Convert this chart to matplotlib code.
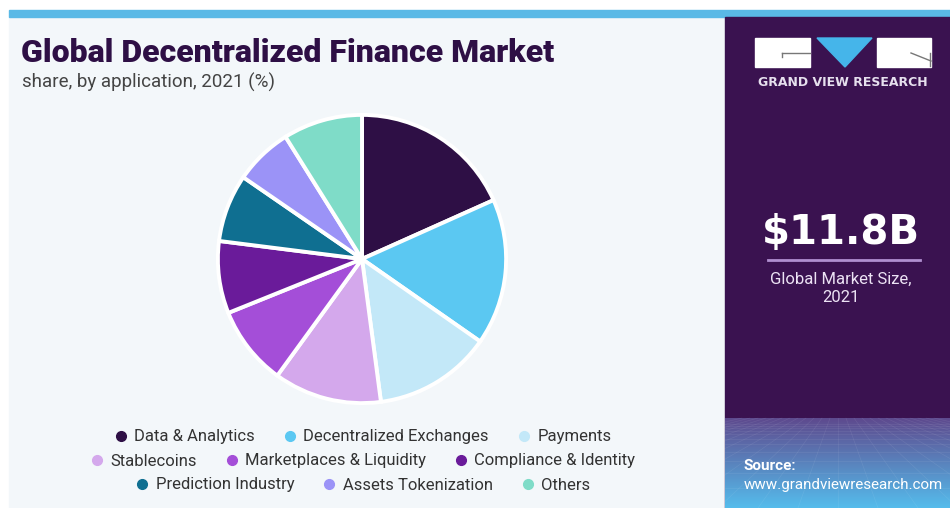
import numpy as np
import matplotlib.pyplot as plt
from matplotlib.patches import Rectangle, Polygon
from matplotlib.lines import Line2D

plt.rcParams['font.family'] = ['Roboto', 'DejaVu Sans']

# share by application, 2021 (%)
categories = ['Data & Analytics', 'Decentralized Exchanges', 'Payments',
              'Stablecoins', 'Marketplaces & Liquidity', 'Compliance & Identity',
              'Prediction Industry', 'Assets Tokenization', 'Others']
shares = [18.3, 16.4, 13.2, 12.1, 8.9, 8.1, 7.6, 6.5, 8.9]
colors = ['#2e0f45', '#5bc8f2', '#c3e8f8', '#d4a8ec', '#a44ed8',
          '#6a1b9a', '#0f6f91', '#9b93f7', '#7fdcc8']
legend_rows = [[0, 1, 2], [3, 4, 5], [6, 7, 8]]

title = 'Global Decentralized Finance Market'
subtitle = 'share, by application, 2021 (%)'
market_size = '$11.8B'
market_label = 'Global Market Size,\n2021'

W, H = 950, 508
fig = plt.figure(figsize=(W / 100, H / 100), dpi=100)
fig.patch.set_facecolor('white')

# background canvas in pixel coordinates
bg = fig.add_axes([0, 0, 1, 1])
bg.axis('off')
bg.add_patch(Rectangle((9, 17), W - 9, H - 17, color='#f3f7fa', zorder=0))
bg.add_patch(Rectangle((9, 10), W - 9, 7, color='#5ab9e6', zorder=1))

# right side panel
px0 = 725
bg.add_patch(Rectangle((px0, 17), W - px0, H - 17, color='#3a1250', zorder=1))
grad = np.linspace(0, 1, 100).reshape(-1, 1)
c0 = np.array([0x5e, 0x4a, 0x8e]) / 255
c1 = np.array([0x55, 0xbc, 0xec]) / 255
img = c0 + (c1 - c0) * grad[..., None]
bg.imshow(np.repeat(img, 2, axis=1), extent=(px0, W, H, 418), aspect='auto',
          zorder=2, interpolation='bilinear')
# faint perspective grid over the gradient
for k in range(-12, 13):
    bg.plot([838 + k * 8, 838 + k * 40], [418, H], color='white', lw=0.5,
            alpha=0.08, zorder=3)
for yy in np.geomspace(6, 90, 12):
    bg.plot([px0, W], [418 + yy, 418 + yy], color='white', lw=0.5,
            alpha=0.08, zorder=3)
bg.set_xlim(0, W)
bg.set_ylim(H, 0)

# logo
bg.add_patch(Rectangle((755, 38), 55, 29, color='white', zorder=5))
bg.add_patch(Rectangle((877, 38), 54, 29, color='white', zorder=5))
bg.add_patch(Polygon([(817, 38), (872, 38), (845, 67)], color='#45b5ea', zorder=5))
bg.add_line(Line2D([782, 810], [53, 53], color='#777777', lw=1, zorder=6))
bg.add_line(Line2D([782, 782], [53, 57], color='#777777', lw=1, zorder=6))
bg.add_line(Line2D([911, 931], [53, 61], color='#777777', lw=1, zorder=6))
bg.add_line(Line2D([930, 930], [53, 66], color='#777777', lw=1, zorder=6))
bg.text(843, 83, 'GRAND VIEW RESEARCH', color='#e6e0ee', fontsize=9,
        fontweight='bold', family='DejaVu Sans', ha='center', va='center',
        zorder=6)

# market size block
bg.text(841, 233, market_size, color='white', fontsize=29, fontweight='bold',
        family='DejaVu Sans', ha='center', va='center', zorder=6)
bg.add_line(Line2D([768, 920], [260, 260], color='#b08fd0', lw=2, zorder=6))
bg.text(841, 288, market_label, color='#ece2f4', fontsize=12,
        ha='center', va='center', linespacing=1.25, zorder=6)

# source
bg.text(744, 466, 'Source:', color='white', fontsize=11, fontweight='bold',
        ha='left', va='center', zorder=6)
bg.text(744, 485, 'www.grandviewresearch.com', color='white', fontsize=10.9,
        ha='left', va='center', zorder=6)

# titles
bg.text(21, 53, title, color='#2e0f45', fontsize=23, fontweight='black',
        ha='left', va='center', zorder=6)
bg.text(22, 82, subtitle, color='#444444', fontsize=13.5,
        ha='left', va='center', zorder=6)

# pie
cx, cy, r = 362, 259, 147
ax = fig.add_axes([(cx - r) / W, (H - cy - r) / H, 2 * r / W, 2 * r / H])
wedges, _ = ax.pie(shares, colors=colors, startangle=90, counterclock=False,
                   wedgeprops=dict(edgecolor='white', linewidth=2.8))
ax.set_xlim(-1.02, 1.02)
ax.set_ylim(-1.02, 1.02)
ax.set_aspect('equal')

# legend, one centred row at a time
for i, row in enumerate(legend_rows):
    handles = [Line2D([], [], marker='o', ls='', markersize=7,
                      markerfacecolor=colors[j], markeredgecolor=colors[j])
               for j in row]
    leg = fig.legend(handles, [categories[j] for j in row], ncol=3,
                     loc='center', bbox_to_anchor=(362 / W, 1 - (437 + 24 * i) / H),
                     frameon=False, handletextpad=0.3, columnspacing=1.6,
                     handlelength=1.0, prop={'size': 12})
    for t in leg.get_texts():
        t.set_color('#333333')

fig.savefig('out.png', dpi=100)
